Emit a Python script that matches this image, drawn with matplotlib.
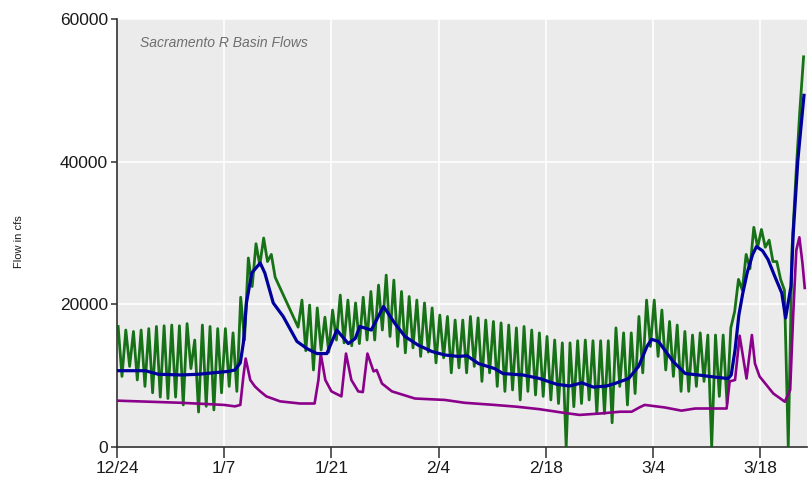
import datetime as dt
import matplotlib
matplotlib.use("Agg")
import matplotlib.pyplot as plt
import matplotlib.dates as mdates
from matplotlib.ticker import FixedLocator, FuncFormatter
from matplotlib import font_manager

# ---- data -------------------------------------------------------------
start_date = dt.datetime(2018, 12, 24)
tick_dates = ["12/24", "1/7", "1/21", "2/4", "2/18", "3/4", "3/18"]
y_ticks = [0, 20000, 40000, 60000]

# Gauge flow (daily high and daily low, cfs); None = missing record
gauge_daily_high = [
    16900, 16400, 16200, 16400, 16600, 16900, 17000, 17100, 17000, 17300,
    15000, 17100, 16900, 16600, 16600, 16000, 21000, 26500, 28500, 29300,
    27000, None, None, None, 20600, 19900, 19500, 18200, 19200, 21300,
    20600, 20200, 21000, 21800, 22700, 24100, 23400, 21800, 21100, 20600,
    20200, 19500, 18500, 18300, 17800, 17800, 18300, 18100, 17800, 17600,
    17400, 17100, 16700, 16900, 16400, 16000, 15500, 15000, 14600, 14600,
    14900, 15000, 14900, 14900, 14900, 16700, 16000, 16000, 18300, 20600,
    20600, 19200, 17600, 17100, 16200, 15700, 16000, 15700, 15700, 15700,
    16700, 23500, 27000, 30800, 30500, 29000, 26000, 22000, 28000, 47000,
]
gauge_daily_low = [
    9900, 11300, 9400, 8500, 7600, 7000, 6800, 7000, 5900, 11000,
    4900, 5700, 5200, 7600, 8500, 7800, 15000, 22500, 25500, 26000,
    23800, None, None, 16800, 13500, 10800, 13600, 13300, 15000, 14600,
    14200, 14500, 15000, 15000, 16400, 15500, 14100, 13200, 13900, 12700,
    13300, 11800, 12500, 10400, 11100, 10400, 11300, 9200, 10400, 8500,
    7800, 8000, 6600, 7800, 7300, 7100, 6600, 6100, 0, 5650,
    6100, 6600, 4700, 4700, 3400, 8500, 5900, 7500, 10400, 14100,
    12700, 10800, 9900, 7800, 7800, 8500, 9200, 0, 7100, 6100,
    19000, 22000, 25000, 28000, 28000, 26000, 23500, 0, 38000, 54700,
]

# Basin total flow (day offset, cfs)
basin_days = [0.2, 3.7, 5.4, 8.4, 10.6, 14.5, 15.4, 16.1, 16.5, 16.9, 17.6,
              18.7, 19.3, 20.4, 21.7, 23.5, 24.8, 26.1, 27.4, 28.7, 30.2,
              31.1, 31.7, 33.2, 34.8, 36.3, 37.6, 39.3, 41.1, 42.8, 44.6,
              45.7, 47.2, 49.3, 50.4, 53.0, 55.2, 57.4, 59.1, 60.7, 62.2,
              63.9, 65.0, 66.8, 68.1, 69.2, 69.8, 70.7, 72.6, 74.2, 75.9,
              78.1, 79.8, 80.2, 80.7, 81.2, 81.7, 82.3, 83.0, 83.5, 84.3,
              85.0, 85.9, 86.8, 87.3, 88.0, 88.3, 88.9, 89.7]
basin_flow = [10700, 10700, 10200, 10100, 10200, 10600, 10800, 11800, 14600,
              20200, 24400, 25800, 24400, 20200, 18300, 14800, 13800, 13100,
              13100, 16400, 14500, 15200, 16900, 16400, 19700, 17300, 15500,
              14300, 13400, 12900, 12700, 12800, 11700, 11000, 10300, 10100,
              9600, 8800, 8550, 9000, 8400, 8550, 8900, 9600, 11300, 14100,
              15100, 14800, 12000, 10300, 10100, 9800, 9600, 10100, 13600,
              18500, 21500, 24500, 27000, 28100, 27500, 26300, 23900, 21600,
              18100, 22500, 30000, 40200, 49300]

# Tributary flow (day offset, cfs)
trib_days = [0.0, 8.4, 14.0, 15.4, 16.1, 16.5, 16.8, 17.4, 18.0, 18.7, 19.5,
             21.3, 23.9, 25.8, 26.3, 26.6, 27.2, 28.0, 29.3, 29.9, 30.6,
             31.5, 32.1, 32.7, 33.5, 33.9, 34.6, 35.9, 38.9, 42.8, 45.4,
             49.3, 52.2, 55.2, 58.3, 60.4, 63.1, 65.7, 67.2, 68.3, 68.9,
             71.5, 73.7, 75.5, 78.1, 79.6, 80.0, 80.7, 81.3, 82.2, 82.9,
             83.3, 83.9, 85.7, 87.2, 87.9, 88.3, 88.7, 89.1, 89.5, 89.8]
trib_flow = [6500, 6200, 5900, 5700, 5900, 9900, 12400, 9400, 8500, 7800,
             7100, 6400, 6100, 6100, 9400, 13100, 9400, 7800, 7100, 13100,
             9400, 7800, 7700, 13100, 10600, 10800, 8900, 7800, 6800, 6600,
             6200, 5900, 5650, 5300, 4800, 4500, 4700, 4950, 4950, 5600,
             5900, 5550, 5100, 5400, 5400, 5400, 9200, 9400, 15600, 9600,
             15700, 11700, 9900, 7500, 6350, 8000, 18700, 27600, 29400,
             25800, 22300]

# ---- fonts ------------------------------------------------------------
installed = {f.name for f in font_manager.fontManager.ttflist}
narrow = "Liberation Sans Narrow" if "Liberation Sans Narrow" in installed else "Liberation Sans"

# ---- figure -----------------------------------------------------------
fig = plt.figure(figsize=(8.08, 4.86), dpi=100)
ax = fig.add_axes([0.1448, 0.0802, 0.8540, 0.8807])
ax.set_facecolor("#EBEBEB")

def to_time(offsets):
    return [start_date + dt.timedelta(days=d) for d in offsets]

# gauge series: a high and a low sample each day
g_x, g_y = [], []
for i, (hi, lo) in enumerate(zip(gauge_daily_high, gauge_daily_low)):
    if hi is not None:
        g_x.append(i + 0.15)
        g_y.append(hi)
    if lo is not None:
        g_x.append(i + 0.65)
        g_y.append(lo)

ax.plot(to_time(g_x), g_y, color="#006400", lw=2.0, alpha=0.9,
        solid_joinstyle="round", zorder=3)
ax.plot(to_time(trib_days), trib_flow, color="#8B008B", lw=1.9, zorder=4)
ax.plot(to_time(basin_days), basin_flow, color="#00009C", lw=2.3, zorder=5)

# axes limits and ticks
x0 = mdates.date2num(start_date)
ax.set_xlim(x0, x0 + 90.1)
ax.set_ylim(0, 60000)

tick_pos = [x0 + 14 * k for k in range(len(tick_dates))]
ax.xaxis.set_major_locator(FixedLocator(tick_pos))
ax.xaxis.set_major_formatter(FuncFormatter(
    lambda v, p: tick_dates[int(round((v - x0) / 14))]))
ax.yaxis.set_major_locator(FixedLocator(y_ticks))
ax.yaxis.set_major_formatter(FuncFormatter(lambda v, p: f"{int(v)}"))

ax.grid(True, color="white", lw=1.2)
ax.set_axisbelow(True)

for s in ("top", "right"):
    ax.spines[s].set_visible(False)
for s in ("left", "bottom"):
    ax.spines[s].set_color("#303030")
    ax.spines[s].set_linewidth(1.2)

ax.tick_params(axis="x", direction="out", length=8, width=1.1,
               color="#303030", pad=2, labelsize=12.5)
ax.tick_params(axis="y", direction="out", length=4.5, width=1.1,
               color="#303030", pad=2, labelsize=12.5)
for lab in ax.get_xticklabels() + ax.get_yticklabels():
    lab.set_family(narrow)
    lab.set_color("#1a1a1a")

ax.set_ylabel("Flow in cfs", family="Liberation Sans", fontsize=8,
              color="#1a1a1a")
ax.yaxis.set_label_coords(-0.135, 0.48)

ax.text(0.033, 0.944, "Sacramento R Basin Flows", transform=ax.transAxes,
        family=narrow, style="italic", fontsize=10, color="#6e6e6e",
        ha="left", va="center")

fig.savefig("out.png", dpi=100)
